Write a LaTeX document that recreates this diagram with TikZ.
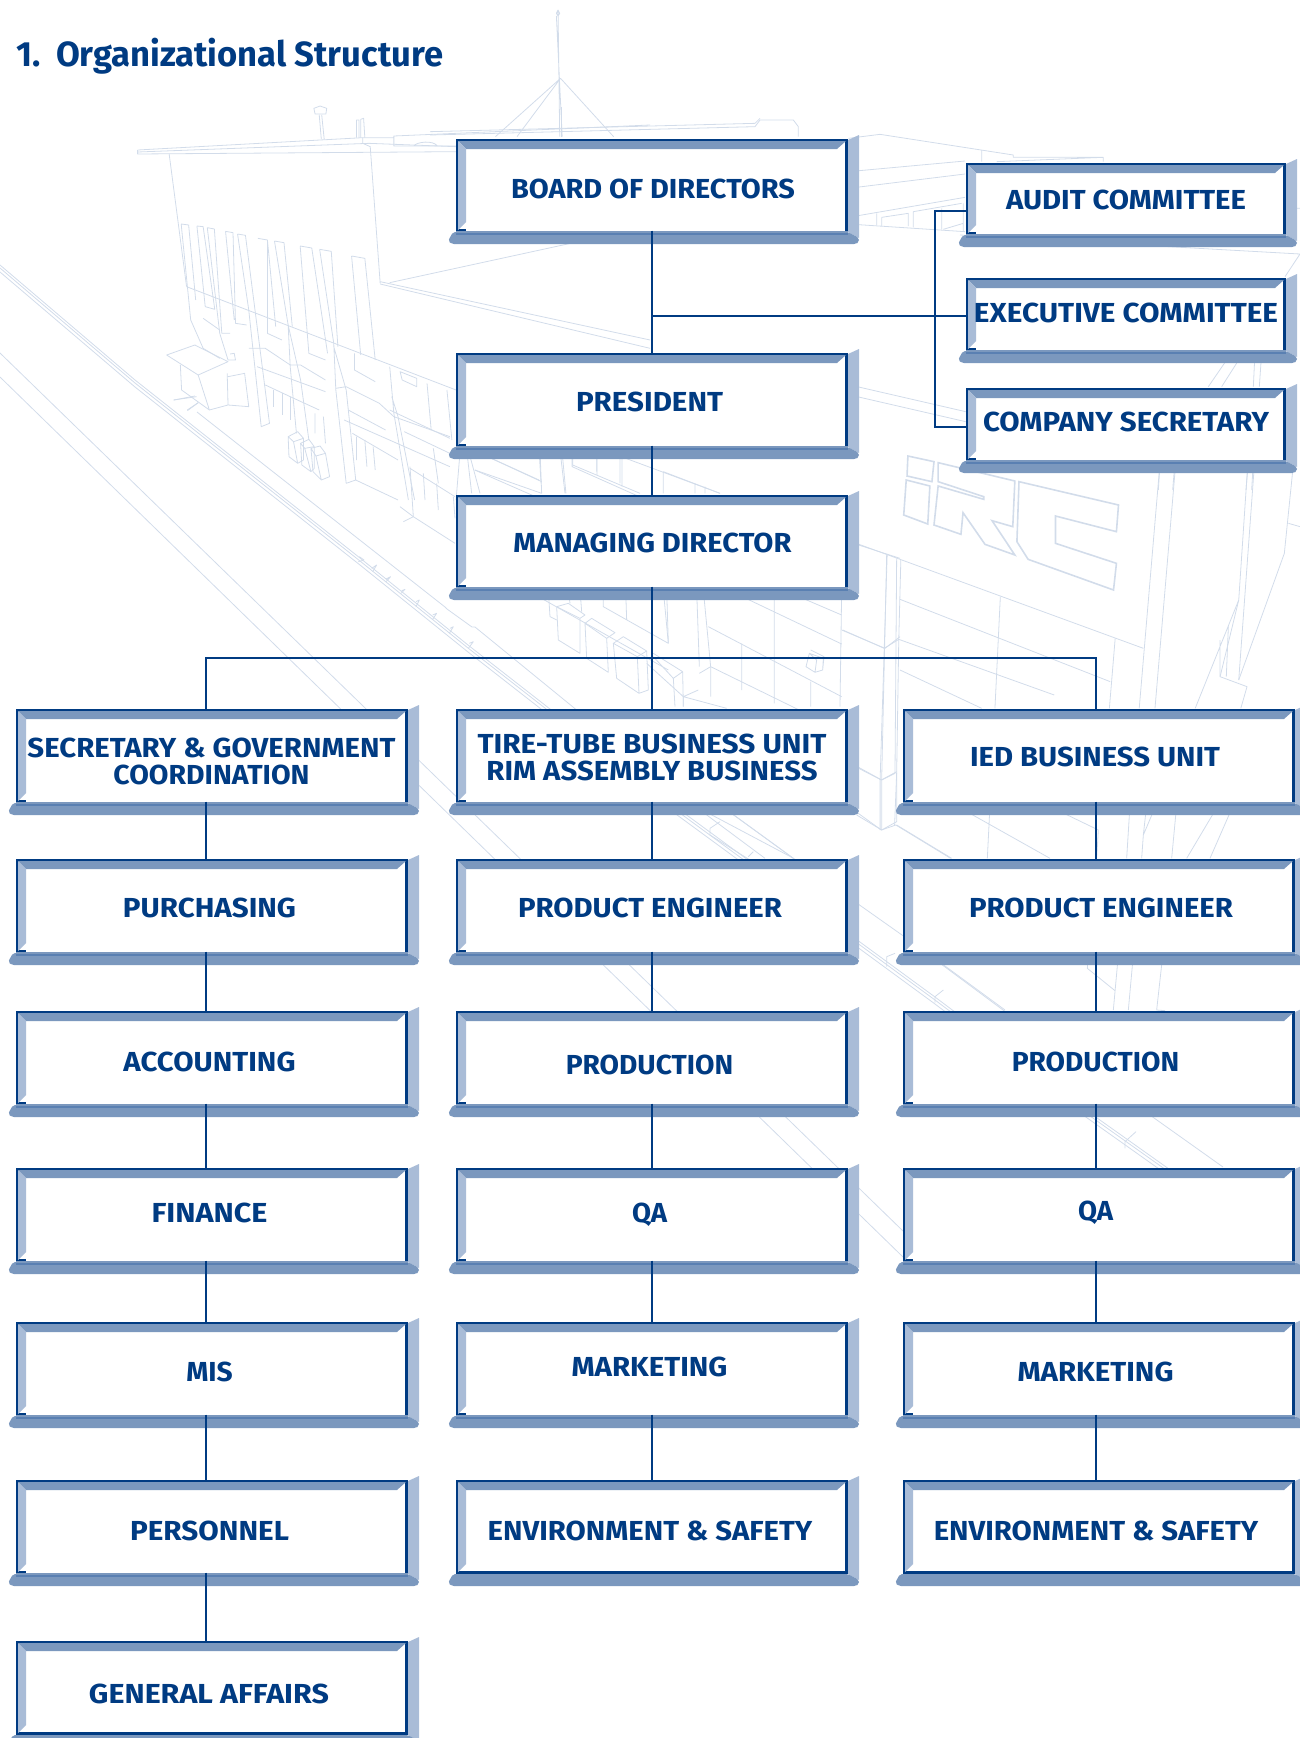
\documentclass[tikz,border=0pt]{standalone}
\usepackage{graphicx}
\usepackage{fontspec}
\setmainfont{Fira Sans}
\definecolor{navy}{HTML}{003B82}
\definecolor{bevelM}{HTML}{7B98BE}
\definecolor{bevelL}{HTML}{A9BCD7}
\definecolor{bgline}{HTML}{D2DCEA}
\definecolor{fadeline}{HTML}{5A80B2}
\tikzset{
  bg/.style={draw=bgline,line width=.8pt,line join=round},
  bgthick/.style={draw=bgline,line width=1.6pt,line join=miter},
  frame/.style={draw=navy,line width=2.6pt,fill=white,inner sep=0pt,outer sep=0pt},
  lbl/.style={inner sep=0pt,outer sep=0pt,text=navy,anchor=center,align=center,text depth=0pt,
    font=\fontsize{27.5}{27}\selectfont\bfseries},
  conn/.style={draw=navy,line width=2pt},
  zfour/.style={shift={(0,0)},x=.41459pt,y=-.33333pt},
  zseven/.style={shift={(0,380)},x=.33333pt,y=-.33333pt},
  zeight/.style={shift={(400,440)},x=.33333pt,y=-.33333pt},
  znine/.style={shift={(400,790)},x=.33333pt,y=-.33333pt},
  zfive/.style={shift={(650,400)},x=.41459pt,y=-.33333pt},
  zten/.style={shift={(820,100)},x=.33333pt,y=-.33333pt},
  ztwo/.style={shift={(900,140)},x=.33333pt,y=-.33333pt},
  zelev/.style={shift={(880,780)},x=.33333pt,y=-.33333pt},
  zone/.style={shift={(430,120)},x=.33333pt,y=-.33333pt}
}
% bevelled frame whose lower edge sinks into the shadow strip
\newcommand{\orgbox}[8]{%
  \orgframe{#1}{#2}{#3}{#4}{#5}{#6}{#7}{#8}
  \fill[white] (#2+10,#5-3) rectangle (#4-2.6,#5-1);
  \fill[bevelM] (#2,#5-1) rectangle (#4,#5+3);
  \draw[fadeline,line width=1.6pt] (#2,#5+2.2) -- (#4,#5+2.2);
  \node[lbl] (#1-text) at (#6,#7) {#8};
}
% the same, with the dark lower edge left showing
\newcommand{\orgboxdark}[8]{%
  \orgframe{#1}{#2}{#3}{#4}{#5}{#6}{#7}{#8}
  \node[lbl] (#1-text) at (#6,#7) {#8};
}
\newcommand{\orgframe}[8]{%
  \fill[bevelL] (#4,#3+1) -- (#4+11,#3-4) -- (#4+11,#5+6) -- (#4,#5) -- cycle;
  \fill[bevelM,rounded corners=2pt] (#2-3,#5) -- (#4,#5) -- (#4+11,#5+6) -- (#4+11,#5+10) -- (#4+8,#5+12) -- (#2-4,#5+12) -- (#2-8,#5+9) -- cycle;
  \node[frame,minimum width=#4-#2-2.6pt,minimum height=#5-#3-2.6pt] (#1) at ({(#2+#4)/2},{(#3+#5)/2}) {};
  \fill[bevelM] (#2+2,#3+2) -- (#4-2,#3+2) -- (#4-11,#3+10) -- (#2+10,#3+10) -- cycle;
  \fill[bevelL] (#2+2,#3+2) -- (#2+10,#3+10) -- (#2+10,#5-10) -- (#2+2,#5-2) -- cycle;
}
\newcommand{\fw}[2]{\resizebox{#1pt}{\height}{#2}}
\begin{document}
\begin{tikzpicture}[x=1pt,y=-1pt]
\clip (0,0) rectangle (1300,1738);
\useasboundingbox (0,0) rectangle (1300,1738);
% ---------- background building ----------
\begin{scope}
\draw[bg] (0,377) -- (903,1257);
\draw[bg] (0,353) -- (903,1231);
\foreach \d in {0,3,7}{
  \draw[bg] (0,265+\d) -- (135,380+\d) -- (360,558+\d) -- (468,645+\d) -- (673,805+\d) -- (748,860+\d) -- (935,997+\d) -- (1083,1108+\d) -- (1300,1262+\d);
}
\draw[bg] (197,412) -- (445,607) -- (447,609) -- (472,627) -- (475,627) -- (693,805) -- (793,858) -- (902,935) -- (1003,1010) -- (1140,1108) -- (1223,1167);
\draw[bg] (720,805) -- (793,858);
\end{scope}
\begin{scope}[zseven]
\draw[bg] (1078,530) -- (1092,540) -- (1075,545);
\draw[bg] (1115,565) -- (1130,555) -- (1118,575);
\draw[bg] (1158,597) -- (1172,590) -- (1158,605);
\draw[bg] (1205,632) -- (1215,628) -- (1203,640);
\draw[bg] (1248,665) -- (1258,660) -- (1248,680);
\draw[bg] (1298,705) -- (1310,700) -- (1298,718);
\draw[bg] (1350,745) -- (1360,740) -- (1348,760);
\draw[bg] (1408,790) -- (1420,785) -- (1405,805);
\draw[bg] (520,60) -- (590,50) (562,90) -- (595,68);
\end{scope}
\begin{scope}[zfour]
% mast and roof
\draw[bg] (1346,30) -- (1350,410) (1346,30) -- (1342,40) -- (1346,48) -- (1350,40) -- cycle (1342,48) -- (1356,410);
\draw[bg] (1352,235) -- (1195,410) (1352,235) -- (1247,410) (1352,235) -- (1480,410);
\draw[bg] (332,450) -- (875,413) -- (950,413) -- (950,408) -- (1568,375);
\draw[bg] (332,450) -- (332,462) -- (1100,455) (332,456) -- (890,430) -- (1100,440);
\draw[bg] (875,413) -- (875,430) -- (893,440) -- (917,850);
\draw[bg] (950,413) -- (950,438) -- (1100,438) (998,438) .. controls (1005,425) and (1045,420) .. (1055,438);
\draw[bg] (775,418) -- (770,345) (782,418) -- (776,345) (757,325) -- (772,318) -- (788,325) -- (786,342) -- (760,342) -- cycle;
\draw[bg] (860,413) -- (860,360) -- (866,360) -- (866,413) (870,413) -- (870,358) -- (877,355) -- (880,413);
\draw[bg] (408,462) -- (450,860);
\draw[bg] (917,845) -- (1568,1020) (917,852) -- (1568,1045);
\draw[bg] (940,848) -- (1480,702);
\draw[bg] (450,860) -- (1100,1170);
\draw[bg] (437,672) -- (455,675) -- (472,900) (437,672) -- (460,960) -- (490,1045) -- (530,1075);
\draw[bg] (475,678) -- (490,680) -- (518,928) -- (495,920) -- (475,678);
\draw[bg] (500,683) -- (517,687) -- (535,1000) -- (555,1000);
\draw[bg] (500,683) -- (530,1000) -- (550,1080) -- (568,1080) -- (565,1060) -- (555,1062);
\draw[bg] (544,694) -- (562,698) -- (568,970) -- (595,975) (544,694) -- (565,960);
\draw[bg] (573,702) -- (592,706) -- (650,1270) -- (630,1280) -- (600,930) -- (573,702);
\draw[bg] (622,715) -- (645,720) -- (645,1000) -- (680,1020) (645,720) -- (665,980);
\draw[bg] (662,723) -- (685,728) -- (705,980) (662,723) -- (695,975);
\draw[bg] (724,738) -- (752,744) -- (790,1060) (724,738) -- (745,1060) -- (785,1080);
\draw[bg] (771,748) -- (799,754) -- (815,1040) (771,748) -- (805,1030);
\draw[bg] (848,768) -- (880,775) -- (905,1080) (848,768) -- (870,1065);
\draw[bg] (855,1060) -- (855,1110) -- (905,1145);
\draw[bg] (695,975) -- (700,1100) -- (715,1300) (695,975) -- (725,1140) -- (745,1320);
\draw[bg] (805,1030) -- (810,1170) -- (835,1450) -- (858,1440) -- (835,1170) -- (805,1040);
\draw[bg] (940,1100) -- (950,1240) -- (985,1500) (945,1190) -- (960,1250) -- (1000,1500);
% blocks
\draw[bg] (402,1065) -- (470,1035) -- (550,1085) -- (478,1125) -- cycle;
\draw[bg] (435,1095) -- (438,1170) -- (505,1230) -- (478,1125);
\draw[bg] (505,1230) -- (550,1215) -- (548,1120) (550,1215) -- (600,1220) -- (590,1120) -- (550,1130);
\draw[bg] (420,1200) -- (470,1188) (452,1232) -- (478,1208);
\draw[bg] (490,955) -- (530,990);
\draw[bg] (600,1045) -- (640,1045) -- (700,1095) -- (725,1095) -- (785,1140);
\draw[bg] (810,1165) -- (835,1160) -- (915,1210) -- (950,1250) -- (1085,1310);
\draw[bg] (620,1100) -- (785,1175) (640,1155) -- (700,1190) -- (770,1230);
\draw[bg] (660,1170) -- (660,1220) (680,1180) -- (680,1245) (700,1190) -- (700,1260);
\draw[bg] (760,1240) -- (760,1300) (780,1250) -- (785,1330);
\draw[bg] (840,1230) -- (930,1290) (830,1260) -- (1085,1400) (850,1300) -- (960,1380);
\draw[bg] (860,1310) -- (860,1380) (880,1320) -- (885,1400) (900,1340) -- (905,1410);
\draw[bg] (940,1230) -- (1085,1315) (975,1295) -- (1085,1360);
\draw[bg] (1030,1150) -- (1040,1290) (1078,1170) -- (1090,1320);
\draw[bg] (1110,1350) -- (1100,1500) (1145,1410) -- (1310,1500) (1150,1355) -- (1300,1440);
\draw[bg] (1300,1345) -- (1305,1450) (1355,1345) -- (1365,1480);
\draw[bg] (1380,1345) -- (1380,1400) -- (1560,1500) (1440,1345) -- (1440,1425) (1500,1345) -- (1500,1460);
\draw[bg] (965,1115) -- (1005,1135) -- (1005,1160) -- (970,1140) -- cycle;
\draw[bg] (695,1310) -- (718,1295) -- (732,1315) -- (708,1325) -- cycle (695,1310) -- (697,1370) -- (718,1390) -- (708,1325) (718,1390) -- (732,1380) -- (732,1315);
\draw[bg] (725,1330) -- (745,1318) -- (758,1340) -- (735,1345) -- cycle (725,1330) -- (728,1395) -- (750,1415) -- (735,1345) (750,1415) -- (758,1405) -- (758,1340);
\draw[bg] (750,1345) -- (772,1338) -- (785,1360) -- (762,1368) -- cycle (750,1345) -- (755,1415) -- (775,1440) -- (795,1430) -- (785,1360) (775,1440) -- (762,1368);
\draw[bg] (858,1440) -- (960,1500);
\end{scope}
\begin{scope}[zeight]
\draw[bg] (100,25) -- (115,130) (30,85) -- (165,170) (0,200) -- (40,230) -- (165,310);
\draw[bg] (70,100) -- (75,180) (110,130) -- (115,210) (30,80) -- (40,230) (160,170) -- (165,235) (10,245) -- (40,230);
\draw[bg] (205,30) -- (240,160) (200,30) -- (215,160) (225,90) -- (425,160) (230,35) -- (425,125);
\draw[bg] (420,30) -- (425,160) (480,30) -- (495,160) (518,30) -- (518,75) -- (720,160);
\draw[bg] (590,30) -- (590,95) (660,30) -- (660,130) (790,95) -- (960,160) (790,95) -- (790,160);
\draw[bg] (885,130) -- (885,160) (915,140) -- (915,160) (610,30) -- (960,160);
\draw[bg] (470,500) -- (505,490) -- (555,525) -- (540,535) -- (540,640) -- (475,600) -- cycle (540,535) -- (470,500);
\draw[bg] (555,550) -- (575,535) -- (645,578) -- (620,595) -- (625,697) -- (560,655) -- cycle (620,595) -- (555,550);
\draw[bg] (640,610) -- (670,590) -- (740,633) -- (712,650) -- (717,760) -- (650,715) -- cycle (712,650) -- (640,610) (740,633) -- (745,750) -- (717,760);
\draw[bg] (760,650) -- (820,715) -- (848,695) -- (760,640) (820,715) -- (825,800) (848,695) -- (850,800);
\draw[bg] (445,452) -- (450,530) -- (470,540) (505,450) -- (510,490) (540,450) -- (545,515);
\draw[bg] (610,450) -- (610,500) -- (805,610) -- (790,450) (677,450) -- (680,540);
\draw[bg] (800,450) -- (805,610) (890,450) -- (898,680) (910,450) -- (932,680) -- (932,770);
\draw[bg] (925,560) -- (1325,770) (985,450) -- (1325,612) (1150,450) -- (1325,525) (380,450) -- (805,690);
\draw[bg] (1123,450) -- (1123,790) (1325,450) -- (1320,800) (1025,610) -- (1025,750) (1232,725) -- (1232,800);
\draw[bg] (1325,570) -- (1455,625) -- (1500,590);
\draw[bg] (898,700) -- (932,680) -- (1320,870) (850,770) -- (895,750) (850,770) -- (980,805) (850,800) -- (850,770);
\draw[bg] (740,670) -- (850,770);
\draw[bg] (1218,680) -- (1228,640) -- (1270,655) -- (1268,690) -- (1245,697) -- cycle (1232,630) -- (1272,650) -- (1268,690) (1245,697) -- (1250,660) -- (1228,640);
\draw[bg] (1345,305) -- (1500,355);
\draw[bg] (1460,345) -- (1445,1020) -- (1445,1170) -- (1370,1125) (1490,355) -- (1485,1000) -- (1445,1020) (1345,965) -- (1445,1020);
\draw[bg] (1445,1170) -- (1490,1145) -- (1490,1000);
\draw[bg] (930,1165) -- (930,1185) -- (1050,1260) (930,1165) -- (960,1145);
\end{scope}
\begin{scope}[znine]
\draw[bg] (880,45) -- (1095,205) (960,45) -- (1180,205) (1045,200) -- (1060,185);
\end{scope}
\begin{scope}[zfive]
% logo
\draw[bgthick] (622,168) -- (685,185) -- (680,245) -- (620,228) -- cycle;
\draw[bgthick] (618,240) -- (675,258) -- (670,372) -- (612,345) -- cycle;
\draw[bgthick] (695,188) -- (880,243) -- (875,380) -- (825,362) -- (880,465) -- (808,433) -- (755,338) -- (750,403) -- (685,375) -- (695,258) -- (805,298) -- (805,290) -- (695,245) -- cycle;
\draw[bgthick] (890,245) -- (1130,315) -- (1125,395) -- (978,348) -- (978,430) -- (1125,490) -- (1118,570) -- (912,478) -- (885,425) -- cycle;
% facade right
\draw[bg] (480,422) -- (1190,745);
\draw[bg] (572,465) -- (565,745) -- (555,1140) -- (555,1290);
\draw[bg] (605,480) -- (600,720) -- (595,1115) -- (590,1275);
\draw[bg] (465,690) -- (565,745) -- (600,718) -- (975,885);
\draw[bg] (603,598) -- (1110,845) (603,810) -- (800,925);
\draw[bg] (480,1090) -- (558,1140) -- (595,1115) (480,1220) -- (558,1290) -- (593,1275) -- (725,1375);
\draw[bg] (845,590) -- (832,925) (1122,715) -- (1108,925);
\draw[bg] (1230,190) -- (1180,925) (1268,190) -- (1218,925);
\draw[bg] (1442,190) -- (1420,600) -- (1375,830) (1458,190) -- (1420,840);
\draw[bg] (1420,600) -- (1315,925) (1375,720) -- (1375,830) (1395,680) -- (1390,830);
\draw[bg] (1375,830) -- (1440,860) -- (1425,925);
\draw[bg] (1550,215) -- (1530,460) -- (1420,840) (1540,370) -- (1568,380);
\draw[bg] (1045,190) -- (1230,195);
\end{scope}
\begin{scope}[zone]
\draw[bg] (0,45) -- (975,20) -- (990,0) -- (1090,0) -- (1105,20) -- (1105,50);
\draw[bg] (0,35) -- (975,10) -- (990,-5);
\draw[bg] (395,-40) -- (395,50);
\end{scope}
\begin{scope}[zten]
\draw[bg] (85,115) -- (180,103) -- (580,165) -- (580,172) -- (850,172) -- (850,185) (530,185) -- (850,172) (485,150) -- (485,185);
\draw[bg] (85,215) -- (435,183) (85,265) -- (435,222) (85,352) -- (435,292) (85,372) -- (435,395);
\draw[bg] (170,340) -- (170,375) (185,352) -- (265,340) -- (265,378) (185,352) -- (185,378);
\draw[bg] (280,335) -- (425,310) (280,335) -- (280,382) (365,325) -- (365,388) (370,388) -- (430,370) (430,310) -- (430,395);
\draw[bg] (420,405) -- (1440,462) -- (1395,530) (1400,325) -- (1440,325);
\end{scope}
\begin{scope}[ztwo]
\draw[bg] (995,638) -- (925,740) (1030,638) -- (965,740) (1065,638) -- (1060,740) (1085,638) -- (1078,740);
\draw[bg] (-150,735) -- (197,815) (-150,765) -- (197,845);
\draw[bg] (700,965) -- (780,975) -- (775,1050) (825,965) -- (818,1050) (1045,965) -- (1038,1050) (1060,965) -- (1055,1050);
\end{scope}
\begin{scope}[zelev]
\draw[bg] (225,75) -- (510,235) (330,75) -- (322,235) (500,75) -- (655,150) -- (650,235) (50,135) -- (215,235);
\draw[bg] (750,75) -- (740,235) (800,75) -- (790,165) -- (785,235) (828,75) -- (790,165) (890,75) -- (875,235);
\draw[bg] (1015,75) -- (920,235) (1060,75) -- (990,235);
\draw[bg] (625,525) -- (622,565) -- (705,632) (715,525) -- (700,690) (760,525) -- (745,690) (855,525) -- (845,555) -- (830,690) -- (855,692);
\draw[bg] (150,525) -- (375,690);
\draw[bg] (735,1085) -- (768,1055) (735,1085) -- (735,1105);
\draw[bg] (165,650) -- (190,630) (165,650) -- (165,668) (20,530) -- (45,520) (20,530) -- (20,560);
\end{scope}
% ---------- title ----------
\node[inner sep=0pt,anchor=base west,text=navy,font=\fontsize{35}{35}\selectfont\bfseries] (title) at (16,66) {\fw{427}{1.\hspace{.45em}Organizational Structure}};
% ---------- boxes ----------
\orgbox{board}{456}{139}{848}{232}{653}{189}{\fw{284}{BOARD OF DIRECTORS}}
\orgbox{pres}{456}{353}{848}{447}{649.5}{402}{\fw{147}{PRESIDENT}}
\orgbox{mgr}{456}{495}{848}{588}{652.5}{543}{\fw{278}{MANAGING DIRECTOR}}
\orgbox{audit}{966}{163}{1286}{235}{1126}{200}{\fw{240}{AUDIT COMMITTEE}}
\orgbox{exec}{966}{278}{1286}{351}{1126}{313}{\fw{304}{EXECUTIVE COMMITTEE}}
\orgbox{csec}{966}{388}{1286}{461}{1126}{422}{\fw{286}{COMPANY SECRETARY}}
\orgbox{sec}{16}{709}{408}{803}{211.5}{761}{\fw{368}{SECRETARY \& GOVERNMENT}\\\fw{196}{COORDINATION}}
\orgbox{tire}{456}{709}{848}{803}{652}{757}{\fontsize{27.5}{32}\selectfont\fw{349}{TIRE-TUBE BUSINESS UNIT}\\\fw{331}{RIM ASSEMBLY BUSINESS}}
\orgbox{ied}{903}{709}{1295}{803}{1095}{757}{\fw{250}{IED BUSINESS UNIT}}
\orgbox{purch}{16}{859}{408}{953}{209.5}{908}{\fw{173}{PURCHASING}}
\orgbox{peA}{456}{859}{848}{953}{650}{908}{\fw{264}{PRODUCT ENGINEER}}
\orgbox{peB}{903}{859}{1295}{953}{1101}{908}{\fw{264}{PRODUCT ENGINEER}}
\orgbox{acct}{16}{1011}{408}{1105}{209.5}{1062}{\fw{172}{ACCOUNTING}}
\orgbox{prodA}{456}{1011}{848}{1105}{649.5}{1065}{\fw{167.5}{PRODUCTION}}
\orgbox{prodB}{903}{1011}{1295}{1105}{1095.5}{1062}{\fw{167.5}{PRODUCTION}}
\orgbox{fin}{16}{1168}{408}{1262}{209.5}{1213}{\fw{116}{FINANCE}}
\orgbox{qaA}{456}{1168}{848}{1262}{649.5}{1213}{\fw{35}{QA}}
\orgbox{qaB}{903}{1168}{1295}{1262}{1095.5}{1211}{\fw{35}{QA}}
\orgbox{mis}{16}{1322}{408}{1416}{209.5}{1372}{\fw{46.5}{MIS}}
\orgbox{mktA}{456}{1322}{848}{1416}{649.5}{1367}{\fw{156}{MARKETING}}
\orgbox{mktB}{903}{1322}{1295}{1416}{1095.5}{1372}{\fw{156}{MARKETING}}
\orgbox{pers}{16}{1480}{408}{1574}{209.5}{1531}{\fw{159}{PERSONNEL}}
\orgboxdark{envA}{456}{1480}{848}{1574}{650}{1531}{\fw{324.5}{ENVIRONMENT \& SAFETY}}
\orgboxdark{envB}{903}{1480}{1295}{1574}{1096}{1531}{\fw{324.5}{ENVIRONMENT \& SAFETY}}
\orgboxdark{gen}{16}{1641}{408}{1735}{209}{1694}{\fw{240}{GENERAL AFFAIRS}}
% ---------- connectors ----------
\coordinate (lspine) at (205.7,0);
\coordinate (rspine) at (1096,0);
\coordinate (trunk) at (652,658);
\coordinate (bracket) at (935,0);
\coordinate (aLink) at (966,211);
\coordinate (eLink) at (966,316);
\coordinate (sLink) at (966,427);
\draw[conn] (board.south) -- (pres.north);
\draw[conn] (pres.south) -- (mgr.north);
\draw[conn] (mgr.south) -- (tire.north);
\draw[conn] (eLink) -- (eLink -| board.south);
\draw[conn] (aLink) -- (aLink -| bracket) -- (sLink -| bracket) -- (sLink);
\draw[conn] (sec.north -| lspine) -- (trunk -| lspine) -- (trunk -| rspine) -- (ied.north -| rspine);
\foreach \a/\b in {tire/peA,peA/prodA,prodA/qaA,qaA/mktA,mktA/envA}{
  \draw[conn] (\a.south) -- (\b.north);
}
\foreach \a/\b in {sec/purch,purch/acct,acct/fin,fin/mis,mis/pers,pers/gen}{
  \draw[conn] (\a.south -| lspine) -- (\b.north -| lspine);
}
\foreach \a/\b in {ied/peB,peB/prodB,prodB/qaB,qaB/mktB,mktB/envB}{
  \draw[conn] (\a.south -| rspine) -- (\b.north -| rspine);
}
\end{tikzpicture}
\end{document}
